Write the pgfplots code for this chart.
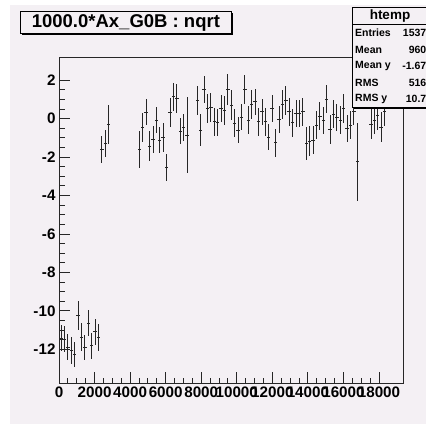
\documentclass[border=0pt]{standalone}
\usepackage{fontspec}
\setmainfont{Liberation Sans}
\usepackage{pgfplots}
\pgfplotsset{compat=1.18}
\usepackage{pgfplotstable}
\definecolor{canvas}{RGB}{244,240,244}

% profile bins: centre, mean, half bin width, error on mean
\pgfplotstableread{
x y ex ey
112 -11.42 96 0.69
304 -11.46 96 0.68
495 -11.89 96 0.69
687 -12.07 96 0.69
878 -12.29 96 0.65
1070 -10.25 96 0.74
1262 -11.37 96 0.72
1453 -11.89 96 0.65
1645 -10.64 96 0.69
1836 -11.82 96 0.69
2028 -11.08 96 0.67
2220 -11.39 96 0.69
2411 -1.60 96 0.71
2603 -1.29 96 0.71
2794 -0.30 96 1.01
4519 -1.60 96 0.97
4710 -0.46 96 0.74
4902 0.32 96 0.68
5094 -1.43 96 0.77
5285 -1.08 96 0.69
5477 -0.08 96 0.69
5668 -1.12 96 0.68
5860 -0.98 96 0.74
6052 -2.54 96 0.70
6243 0.32 96 0.74
6435 1.13 96 0.74
6626 1.05 96 0.75
6818 -0.65 96 0.69
7010 -0.46 96 0.71
7201 -0.86 96 1.98
7776 0.96 96 0.75
7968 -0.60 96 0.82
8159 1.52 96 0.71
8351 0.53 96 0.74
8542 0.58 96 0.74
8734 -0.17 96 0.72
8926 -0.22 96 0.71
9117 0.53 96 0.69
9309 0.44 96 0.75
9500 1.52 96 0.81
9692 0.70 96 0.76
9884 -0.25 96 0.73
10075 -0.60 96 0.69
10267 0.06 96 0.68
10458 1.52 96 0.74
10650 -0.08 96 0.71
10842 0.72 96 0.74
11033 0.87 96 0.67
11225 -0.17 96 0.74
11416 0.35 96 0.69
11608 -0.17 96 0.72
11800 -0.96 96 0.70
11991 0.53 96 0.72
12183 -1.25 96 0.73
12374 -0.04 96 0.70
12566 0.74 96 0.74
12758 0.93 96 0.75
12949 0.35 96 0.74
13141 -0.22 96 0.73
13332 0.27 96 0.71
13524 0.27 96 0.71
13716 0.35 96 0.74
13907 -1.29 96 0.84
14099 -1.17 96 0.76
14290 -1.12 96 0.71
14482 -0.34 96 0.72
14674 0.13 96 0.74
14865 -0.11 96 0.71
15057 1.01 96 0.72
15248 -0.56 96 0.74
15440 0.23 96 0.72
15632 0.06 96 0.71
15823 -0.08 96 0.73
16015 0.53 96 0.74
16206 -0.51 96 0.69
16398 -0.34 96 0.72
16590 0.35 96 0.69
16781 -2.25 96 2.03
17548 -0.29 96 0.78
17739 -0.08 96 0.73
17931 0.16 96 0.73
18122 -0.46 96 0.78
18314 0.35 96 0.73
}\profdata

\begin{document}
\begin{tikzpicture}[x=1pt,y=1pt]
\useasboundingbox (0,0) rectangle (426,424);
\fill[white] (0,0) rectangle (426,424);
\fill[canvas] (10,0) rectangle (426,419);

\begin{axis}[
    at={(59pt,41pt)}, anchor=south west,
    scale only axis, width=344pt, height=326pt,
    xmin=0, xmax=19350, ymin=-13.75, ymax=3.2,
    scaled x ticks=false,
    axis line style={black!85, line width=0.8pt},
    tick pos=left, tick align=inside,
    major tick length=11pt, minor tick length=5.5pt,
    tick style={black!85, line width=0.8pt},
    xtick={0,2000,4000,6000,8000,10000,12000,14000,16000,18000},
    xticklabels={0,2000,4000,6000,8000,10000,12000,14000,16000,18000},
    ytick={-12,-10,-8,-6,-4,-2,0,2},
    yticklabels={-12,-10,-8,-6,-4,-2,0,2},
    minor x tick num=3, minor y tick num=3,
    tick label style={font=\fontsize{15.2}{15.2}\selectfont\bfseries},
    xticklabel style={inner xsep=0pt},
]
\addplot[draw=none, mark=none,
    error bars/.cd, x dir=both, x explicit, y dir=both, y explicit,
    error mark=none, error bar style={draw=black!85, line width=0.9pt}]
    table[x=x, y=y, x error=ex, y error=ey] {\profdata};
\end{axis}

% title box
\fill[black] (22.2,389.2) rectangle (232.5,410.8);
\filldraw[fill=canvas, draw=black, line width=0.8pt] (20.7,390.7) rectangle (231,412.3);
\node[inner sep=0, font=\fontsize{18.5}{18.5}\selectfont\bfseries] at (125.9,401.5) {1000.0*Ax\_G0B : nqrt};

% stats box
\begin{scope}
\clip (0,0) rectangle (426,424);
\fill[black] (353.5,315) rectangle (430,415.5);
\filldraw[fill=canvas, draw=black, line width=0.8pt] (352,316.5) rectangle (428,417);
\draw[black, line width=0.8pt] (352,399.5) -- (428,399.5);
\node[inner sep=0, font=\fontsize{13.5}{13.5}\selectfont\bfseries] at (390,408.3) {htemp};
\begin{scope}[every node/.style={inner sep=0, font=\fontsize{10.5}{10.5}\selectfont\bfseries}]
\node[anchor=west] at (355,391) {Entries}; \node[anchor=east] at (426.5,391) {1537};
\node[anchor=west] at (355,374.5) {Mean}; \node[anchor=east] at (426.5,374.5) {960};
\node[anchor=west] at (355,358) {Mean y}; \node[anchor=east] at (426.5,358) {-1.67};
\node[anchor=west] at (355,341.5) {RMS}; \node[anchor=east] at (426.5,341.5) {516};
\node[anchor=west] at (355,325) {RMS y}; \node[anchor=east] at (426.5,325) {10.7};
\end{scope}
\end{scope}
\end{tikzpicture}
\end{document}
